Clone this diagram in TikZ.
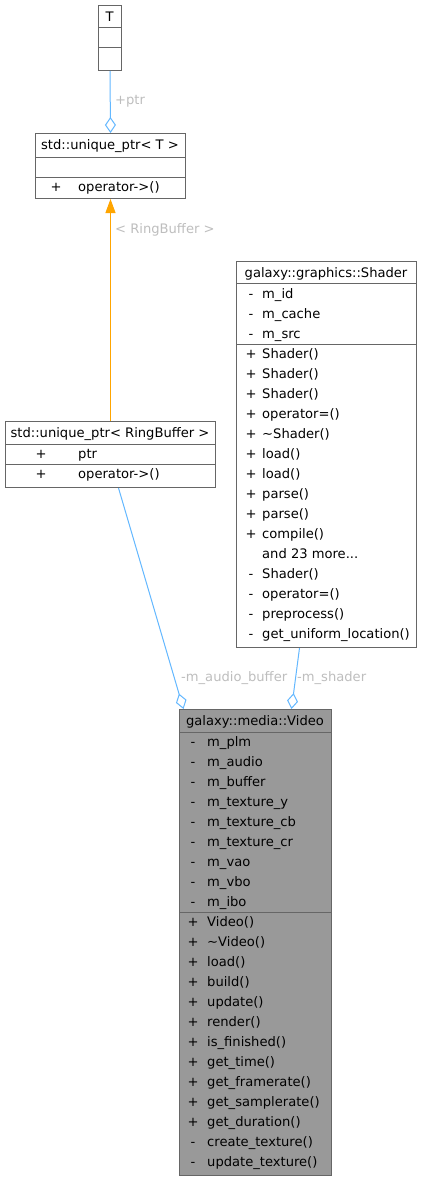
\documentclass[tikz,border=0pt]{standalone}
\usepackage{fontspec}
\setmainfont{DejaVu Sans}
\usetikzlibrary{arrows.meta}
\definecolor{edgeblue}{HTML}{63B8FF}
\definecolor{boxline}{HTML}{666666}
\definecolor{labelgrey}{HTML}{BEBEBE}
\definecolor{mainfill}{HTML}{999999}
\definecolor{tmplorange}{HTML}{FFA500}
\newcommand\moremembers{and 23 more...}
\begin{document}
\begin{tikzpicture}[x=1pt,y=-1pt,
  every node/.style={font=\fontsize{13.1}{15}\selectfont},
  classbox/.style={draw=boxline, line width=1pt, rectangle, inner sep=0pt, anchor=north west},
  sep/.style={draw=boxline, line width=1pt},
  txt/.style={inner sep=0pt, anchor=base west},
  sgn/.style={inner sep=0pt, anchor=base},
  ttl/.style={inner sep=0pt, anchor=base},
  elabel/.style={text=labelgrey, inner sep=0pt, anchor=base west},
  agg/.style={draw=edgeblue, line width=1pt, -{Diamond[open, length=16pt, width=11pt]}},
  tmpl/.style={draw=tmplorange, line width=1pt, -{Triangle[length=14pt, width=10pt, fill=tmplorange]}},
]
\useasboundingbox (0,0) rectangle (421,1180);
\fill[white] (0,0) rectangle (421,1180);

% T
\node[classbox, minimum width=23pt, minimum height=65pt] (T) at (98,5) {};
\draw[sep] (98,28) -- (121,28);
\draw[sep] (98,48) -- (121,48);
\node[ttl] (Tt) at (109.5,22) {T};

% unique_ptr<T>
\node[classbox, minimum width=150pt, minimum height=65pt] (uT) at (35,133) {};
\draw[sep] (35,157) -- (185,157);
\draw[sep] (35,177) -- (185,177);
\node[ttl] (uTt) at (110,149.5) {std::unique\_ptr< T >};
\node[sgn] (uTs) at (56,191.5) {+};
\node[txt] (uTm) at (78,191.5) {operator->()};

% unique_ptr<RingBuffer>
\node[classbox, minimum width=210pt, minimum height=66pt] (uR) at (5,421) {};
\draw[sep] (5,444) -- (215,444);
\draw[sep] (5,464) -- (215,464);
\node[ttl] (uRt) at (110,437.5) {std::unique\_ptr< RingBuffer >};
\node[sgn] (uRs1) at (41,458.5) {+};
\node[txt] (uRa) at (78,458.5) {ptr};
\node[sgn] (uRs2) at (41,478.5) {+};
\node[txt] (uRm) at (78,478.5) {operator->()};

% Shader
\node[classbox, minimum width=180pt, minimum height=386pt] (sh) at (236,261) {};
\draw[sep] (236,283) -- (416,283);
\draw[sep] (236,344) -- (416,344);
\node[ttl] (sht) at (326,277.5) {galaxy::graphics::Shader};
\foreach \t [count=\i from 0] in {m\_id, m\_cache, m\_src}{
  \node[sgn] at (251,{298.5+20*\i}) {-};
  \node[txt] at (262,{298.5+20*\i}) {\t};
}
\foreach \s/\t [count=\i from 0] in {+/Shader(), +/Shader(), +/Shader(), +/operator=(), +/\textasciitilde Shader(), +/load(), +/load(), +/parse(), +/parse(), +/compile(), /\moremembers, -/Shader(), -/operator=(), -/preprocess(), -/get\_uniform\_location()}{
  \node[sgn] at (251,{358.5+20*\i}) {\s};
  \node[txt] at (262,{358.5+20*\i}) {\t};
}

% Video
\node[classbox, fill=mainfill, minimum width=152pt, minimum height=466pt] (vid) at (179,709) {};
\draw[sep] (179,732) -- (331,732);
\draw[sep] (179,912) -- (331,912);
\node[ttl] (vidt) at (255,725.5) {galaxy::media::Video};
\foreach \t [count=\i from 0] in {m\_plm, m\_audio, m\_buffer, m\_texture\_y, m\_texture\_cb, m\_texture\_cr, m\_vao, m\_vbo, m\_ibo}{
  \node[sgn] at (193,{746.5+20*\i}) {-};
  \node[txt] at (207,{746.5+20*\i}) {\t};
}
\foreach \s/\t [count=\i from 0] in {+/Video(), +/\textasciitilde Video(), +/load(), +/build(), +/update(), +/render(), +/is\_finished(), +/get\_time(), +/get\_framerate(), +/get\_samplerate(), +/get\_duration(), -/create\_texture(), -/update\_texture()}{
  \node[sgn] at (193,{926.5+20*\i}) {\s};
  \node[txt] at (207,{926.5+20*\i}) {\t};
}

% edges
\draw[agg] (T.south) -- (uT.north);
\node[elabel] (lptr) at (115,104.5) {+ptr};
\draw[tmpl] (uR.north) -- (uT.south);
\node[elabel] (lrb) at (115,233.5) {< RingBuffer >};
\coordinate (abS) at ([xshift=8pt]uR.south);
\coordinate (abE) at ([xshift=-72pt]vid.north);
\draw[agg] (abS) -- (abE);
\node[elabel] (lab) at (181,681.5) {-m\_audio\_buffer};
\coordinate (shS) at ([xshift=-27pt]sh.south);
\coordinate (shE) at ([xshift=36pt]vid.north);
\draw[agg] (shS) -- (shE);
\node[elabel] (lsh) at (297,681.5) {-m\_shader};
\end{tikzpicture}
\end{document}
